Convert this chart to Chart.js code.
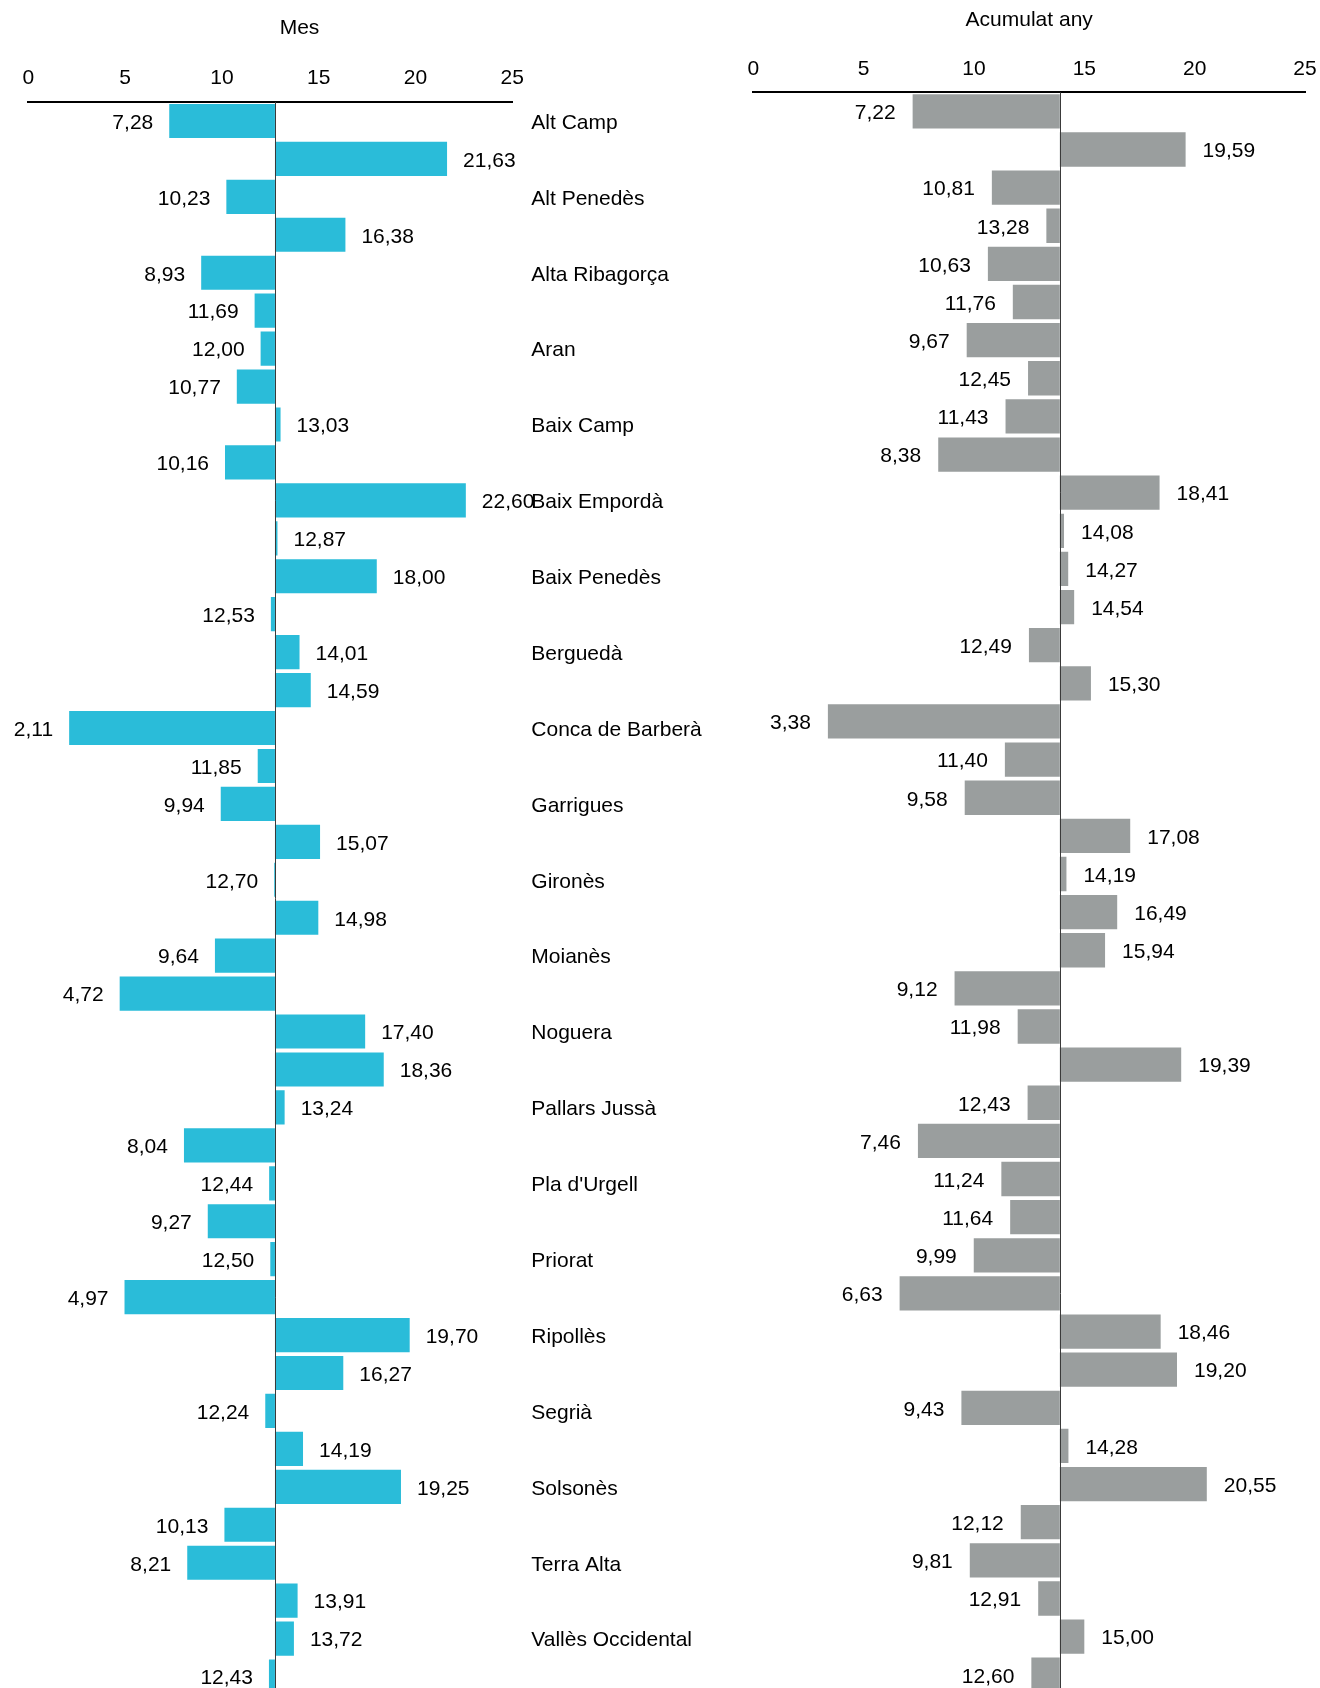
<!DOCTYPE html>
<html>
<head>
<meta charset="utf-8">
<script src="https://cdn.jsdelivr.net/npm/chart.js@4/dist/chart.umd.min.js"></script>
<style>
  html, body { margin: 0; padding: 0; background: #fff; }
  body { width: 1320px; height: 1688px; overflow: hidden; position: relative; }
  #mes { position: absolute; left: 0; top: 0; }
  #any { position: absolute; left: 740px; top: 0; }
</style>
</head>
<body>
<canvas id="mes" width="720" height="1700"></canvas>
<canvas id="any" width="580" height="1700"></canvas>
<script>
const comarques = [
  "Alt Camp", "Alt Empordà", "Alt Penedès", "Alt Urgell", "Alta Ribagorça", "Anoia",
  "Aran", "Bages", "Baix Camp", "Baix Ebre", "Baix Empordà", "Baix Llobregat",
  "Baix Penedès", "Barcelonès", "Berguedà", "Cerdanya", "Conca de Barberà", "Garraf",
  "Garrigues", "Garrotxa", "Gironès", "Maresme", "Moianès", "Montsià",
  "Noguera", "Osona", "Pallars Jussà", "Pallars Sobirà", "Pla d'Urgell", "Pla de l'Estany",
  "Priorat", "Ribera d'Ebre", "Ripollès", "Segarra", "Segrià", "Selva",
  "Solsonès", "Tarragonès", "Terra Alta", "Urgell", "Vallès Occidental", "Vallès Oriental"
];

const valorsMes = [
  7.28, 21.63, 10.23, 16.38, 8.93, 11.69, 12.00, 10.77, 13.03, 10.16,
  22.60, 12.87, 18.00, 12.53, 14.01, 14.59, 2.11, 11.85, 9.94, 15.07,
  12.70, 14.98, 9.64, 4.72, 17.40, 18.36, 13.24, 8.04, 12.44, 9.27,
  12.50, 4.97, 19.70, 16.27, 12.24, 14.19, 19.25, 10.13, 8.21, 13.91,
  13.72, 12.43
];

const valorsAny = [
  7.22, 19.59, 10.81, 13.28, 10.63, 11.76, 9.67, 12.45, 11.43, 8.38,
  18.41, 14.08, 14.27, 14.54, 12.49, 15.30, 3.38, 11.40, 9.58, 17.08,
  14.19, 16.49, 15.94, 9.12, 11.98, 19.39, 12.43, 7.46, 11.24, 11.64,
  9.99, 6.63, 18.46, 19.20, 9.43, 14.28, 20.55, 12.12, 9.81, 12.91,
  15.00, 12.60
];

// valor de referència (Catalunya) des d'on surten les barres
const baseMes = 12.74;
const baseAny = 13.89;

const eixMin = 0, eixMax = 25, eixPas = 5;

const FONT = '"Liberation Sans", Arial, Helvetica, sans-serif';
Chart.defaults.font.family = FONT;
Chart.defaults.font.size = 21;
Chart.defaults.color = '#000';

function fmt(v) {
  return v.toFixed(2).replace('.', ',');
}

// etiquetes de valor, línia de base i títol
const etiquetes = {
  id: 'etiquetes',
  afterDatasetsDraw(chart, args, opts) {
    const ctx = chart.ctx;
    const x = chart.scales.x;
    const meta = chart.getDatasetMeta(0);
    const area = chart.chartArea;
    ctx.save();
    ctx.font = '21px ' + FONT;
    ctx.fillStyle = '#000';
    ctx.textBaseline = 'middle';
    meta.data.forEach((bar, i) => {
      const v = opts.values[i];
      const px = x.getPixelForValue(v);
      const ty = bar.y + 2;
      if (v < opts.base) {
        ctx.textAlign = 'right';
        ctx.fillText(fmt(v), px - opts.gap, ty);
      } else {
        ctx.textAlign = 'left';
        ctx.fillText(fmt(v), px + opts.gap, ty);
      }
    });
    const bx = Math.round(x.getPixelForValue(opts.base)) + 0.5;
    ctx.strokeStyle = '#3a3a3a';
    ctx.lineWidth = 1;
    ctx.beginPath();
    ctx.moveTo(bx, area.top);
    ctx.lineTo(bx, area.bottom);
    ctx.stroke();

    ctx.textAlign = 'center';
    ctx.fillText(opts.title, opts.titleX, opts.titleY);
    ctx.restore();
  }
};

function crearGrafic(id, cfg) {
  return new Chart(document.getElementById(id), {
    type: 'bar',
    data: {
      labels: comarques,
      datasets: [{
        data: cfg.values.map(v => [cfg.base, v]),
        backgroundColor: cfg.color,
        borderWidth: 0,
        barPercentage: 0.9,
        categoryPercentage: 1.0
      }]
    },
    options: {
      indexAxis: 'y',
      responsive: false,
      animation: false,
      layout: { padding: cfg.padding },
      plugins: {
        legend: { display: false },
        tooltip: { enabled: false },
        title: { display: false },
        etiquetes: {
          values: cfg.values, base: cfg.base, gap: cfg.gap,
          title: cfg.title, titleX: cfg.titleX, titleY: cfg.titleY
        }
      },
      scales: {
        x: {
          position: 'top',
          min: eixMin,
          max: eixMax,
          grid: { display: false, drawTicks: false },
          border: { display: true, color: '#000', width: 2 },
          ticks: { stepSize: eixPas, padding: cfg.tickPad, color: '#000', font: { size: 21 } },
          afterFit(scale) {
            scale.height = cfg.axisHeight;
            scale.paddingLeft = 0;
            scale.paddingRight = 0;
          }
        },
        y: {
          display: cfg.showLabels,
          position: 'right',
          grid: { display: false, drawTicks: false },
          border: { display: false },
          ticks: {
            autoSkip: false,
            padding: 19,
            labelOffset: 2,
            color: '#000',
            font: { size: 21 },
            callback: (val, i) => (i % 2 === 0 ? comarques[i] : '')
          },
          afterFit(scale) {
            scale.width = cfg.yWidth;
            scale.paddingTop = 0;
            scale.paddingBottom = 0;
          }
        }
      }
    },
    plugins: [etiquetes]
  });
}

crearGrafic('mes', {
  title: 'Mes',
  titleX: 299.5,
  titleY: 28.3,
  values: valorsMes,
  base: baseMes,
  color: '#2abcd9',
  padding: { left: 28.3, right: 0, top: 0, bottom: 4.5 },
  axisHeight: 102,
  tickPad: 10.8,
  showLabels: true,
  yWidth: 207.7,
  gap: 16
});

crearGrafic('any', {
  title: 'Acumulat any',
  titleX: 289.2,
  titleY: 20,
  values: valorsAny,
  base: baseAny,
  color: '#9a9e9e',
  padding: { left: 13.3, right: 15, top: 0, bottom: 6.2 },
  axisHeight: 92.3,
  tickPad: 10.1,
  showLabels: false,
  yWidth: 0,
  gap: 17
});
</script>
</body>
</html>
